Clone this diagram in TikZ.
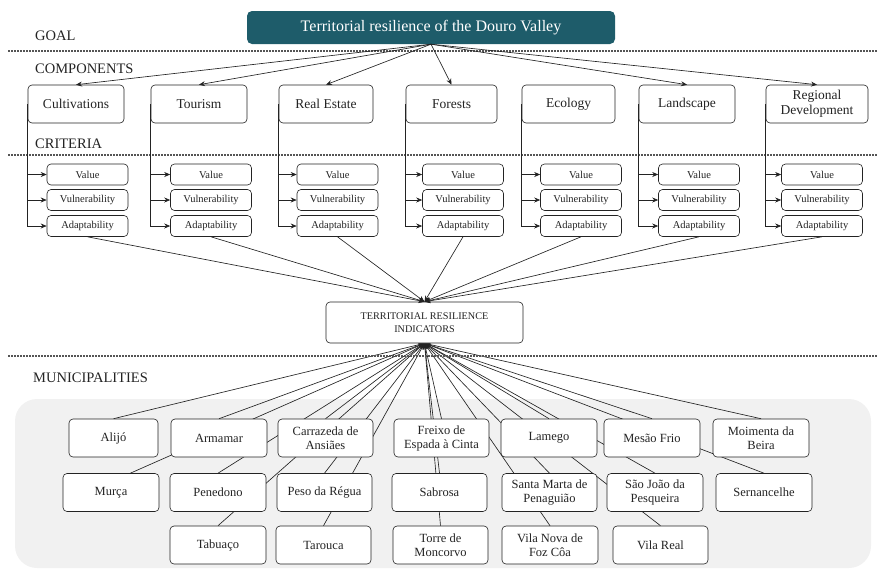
\documentclass[tikz,border=0pt]{standalone}
\usepackage{fontspec}
\setmainfont{Liberation Serif}
\usetikzlibrary{arrows.meta,calc}
\pgfdeclarelayer{panel}
\pgfdeclarelayer{links}
\pgfsetlayers{panel,links,main}
\definecolor{tealgoal}{RGB}{30,92,106}
\definecolor{panelgray}{RGB}{241,241,241}
\definecolor{dotgray}{RGB}{85,85,85}
\definecolor{ink}{RGB}{35,35,35}
\tikzset{
  box/.style={draw=ink, line width=0.6pt, rounded corners=4pt, fill=white, align=center,
    inner sep=0pt, text=ink, font=\fontsize{12.5}{14}\selectfont},
  goalbox/.style={fill=tealgoal, rounded corners=5pt, inner sep=0pt, text=white,
    minimum width=368pt, minimum height=33pt, font=\fontsize{16}{18}\selectfont},
  comp/.style={box, minimum height=38pt, font=\fontsize{13.5}{15}\selectfont},
  crit/.style={box, minimum width=81pt, minimum height=21pt, font=\fontsize{10.5}{12}\selectfont},
  muni/.style={box, minimum height=38pt},
  tribox/.style={box, minimum width=197pt, minimum height=41pt, font=\fontsize{10.2}{13}\selectfont},
  sec/.style={anchor=west, inner sep=0pt, text=ink, font=\fontsize{14.5}{16}\selectfont},
  arr/.style={-{Stealth[length=6pt,width=5pt]}, line width=0.65pt, draw=ink},
  plain/.style={line width=0.65pt, draw=ink},
  dots/.style={line width=2pt, dash pattern=on 1.6pt off 1.4pt, draw=dotgray}
}
\begin{document}
\begin{tikzpicture}[x=1pt,y=-1pt]
\useasboundingbox (0,0) rectangle (877,571);

% section labels and separators
\node[sec] (lgoal) at (35,36) {GOAL};
\node[sec] (lcomp) at (35,69) {COMPONENTS};
\node[sec] (lcrit) at (35,144) {CRITERIA};
\node[sec] (lmuni) at (33,377.5) {MUNICIPALITIES};
\coordinate (d1a) at (8,51);  \coordinate (d1b) at (877,51);
\coordinate (d2a) at (8,155); \coordinate (d2b) at (877,155);
\coordinate (d3a) at (8,356); \coordinate (d3b) at (877,356);
\draw[dots] (d1a) -- (d1b);
\draw[dots] (d2a) -- (d2b);
\draw[dots] (d3a) -- (d3b);

% goal
\node[goalbox] (goal) at (431,27.5) {Territorial resilience of the Douro Valley};

% components
\node[comp, minimum width=96pt]  (cult) at (76,104)    {Cultivations};
\node[comp, minimum width=96pt]  (tour) at (199,104)   {Tourism};
\node[comp, minimum width=94pt]  (real) at (326,104)   {Real Estate};
\node[comp, minimum width=91pt]  (fore) at (451.5,104) {Forests};
\node[comp, minimum width=93pt]  (ecol) at (568.5,104) {Ecology};
\node[comp, minimum width=96pt]  (land) at (687,104)   {Landscape};
\node[comp, minimum width=102pt] (regi) at (817,104)   {Regional\\Development};

\foreach \c in {cult,tour,real,fore,land,regi}
  \draw[arr] (goal.south) -- (\c.north);

% criteria
\foreach \c/\x in {cult/87.5,tour/211,real/337.5,fore/463,ecol/581,land/699,regi/822}{
  \node[crit] (\c V) at (\x,174.5) {Value};
  \node[crit] (\c N) at (\x,200)   {Vulnerability};
  \node[crit] (\c A) at (\x,226)   {Adaptability};
  \draw[arr] (\c.west) |- (\c V.west);
  \draw[arr] (\c.west) |- (\c N.west);
  \draw[arr] (\c.west) |- (\c A.west);
}

% central indicators
\node[tribox] (tri) at (424.5,322.5) {TERRITORIAL RESILIENCE\\INDICATORS};
\foreach \c in {cult,tour,real,fore,ecol,land,regi}
  \draw[arr] (\c A.south) -- (tri.north);

% municipalities panel
\begin{pgfonlayer}{panel}
\fill[panelgray, rounded corners=22pt] (15,399) rectangle (871,568);
\end{pgfonlayer}

\node[muni, minimum width=89pt] (alij) at (113.5,438) {Alijó};
\node[muni, minimum width=96pt] (arma) at (219,438)   {Armamar};
\node[muni, minimum width=95pt] (carr) at (325.5,438) {Carrazeda de\\Ansiães};
\node[muni, minimum width=95pt] (frei) at (441.5,438) {Freixo de\\Espada à Cinta};
\node[muni, minimum width=96pt] (lame) at (549,438)   {Lamego};
\node[muni, minimum width=96pt] (mesa) at (652,438)   {Mesão Frio};
\node[muni, minimum width=96pt] (moim) at (761,438)   {Moimenta da\\Beira};

\node[muni, minimum width=96pt] (murc) at (111,492.5)   {Murça};
\node[muni, minimum width=96pt] (pene) at (218,492.5)   {Penedono};
\node[muni, minimum width=95pt] (peso) at (324.5,492.5) {Peso da Régua};
\node[muni, minimum width=95pt] (sabr) at (439.5,492.5) {Sabrosa};
\node[muni, minimum width=95pt] (sant) at (549.5,492.5) {Santa Marta de\\Penaguião};
\node[muni, minimum width=96pt] (saoj) at (655,492.5)   {São João da\\Pesqueira};
\node[muni, minimum width=96pt] (sern) at (764,492.5)   {Sernancelhe};

\node[muni, minimum width=96pt] (tabu) at (218,545)   {Tabuaço};
\node[muni, minimum width=95pt] (taro) at (323.5,545) {Tarouca};
\node[muni, minimum width=95pt] (torr) at (440.5,545) {Torre de\\Moncorvo};
\node[muni, minimum width=96pt] (vnfc) at (550,545)   {Vila Nova de\\Foz Côa};
\node[muni, minimum width=95pt] (vrea) at (660.5,545) {Vila Real};

\begin{pgfonlayer}{links}
\foreach \m in {alij,arma,carr,frei,lame,mesa,moim,pene,peso,sabr,sant,saoj,sern,tabu,taro,torr,vnfc,vrea}
  \draw[arr] (\m.north) -- (tri.south);
\draw[arr] ($(murc.north west)!0.7!(murc.north east)$) -- (tri.south);
\end{pgfonlayer}
\end{tikzpicture}
\end{document}
